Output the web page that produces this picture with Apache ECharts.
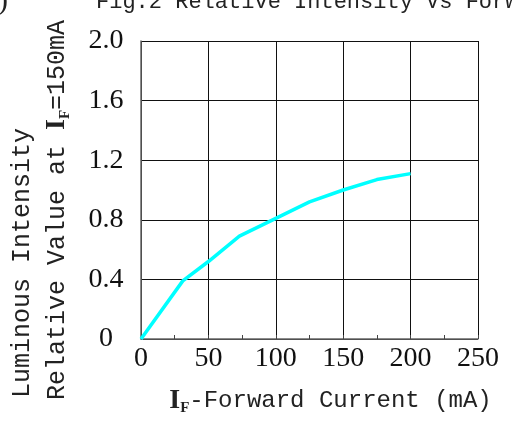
<!DOCTYPE html>
<html>
<head>
<meta charset="utf-8">
<script src="https://cdn.jsdelivr.net/npm/echarts@6/dist/echarts.min.js"></script>
<style>html,body{margin:0;padding:0;background:#fff;}#c{width:512px;height:421px;}</style>
</head>
<body>
<div id="c"></div>
<script>
const titleText = 'Fig.2 Relative Intensity Vs Forward Current';
const currentMA = [0, 31, 50, 73, 100, 125, 150, 175, 200];
const relIntensity = [0, 0.39, 0.52, 0.69, 0.81, 0.92, 1.0, 1.07, 1.11];
const xTicks = [0, 50, 100, 150, 200, 250];
const yTicks = [0, 0.4, 0.8, 1.2, 1.6, 2.0];

const chart = echarts.init(document.getElementById('c'), null, {renderer: 'canvas'});
const mono = 'Liberation Mono';
const serif = 'Liberation Serif';
const option = {
  backgroundColor: '#fff',
  animation: false,
  title: [{
    text: titleText, left: 96, top: -9, padding: 0,
    textStyle: {fontFamily: mono, fontSize: 22, fontWeight: 'normal', color: '#222'}
  }, {
    text: ')', left: -2, top: -14, padding: 0,
    textStyle: {fontFamily: serif, fontSize: 30, fontWeight: 'normal', color: '#222'}
  }],
  grid: {left: 141, right: 34, top: 41, bottom: 80, containLabel: false},
  xAxis: {
    type: 'value', min: xTicks[0], max: xTicks[xTicks.length - 1], interval: 50,
    name: '{b|I}{s|F}-Forward Current (mA)',
    nameLocation: 'middle', nameGap: 46,
    nameTextStyle: {
      fontFamily: mono, fontSize: 24, color: '#222', padding: [0, 0, 0, 42],
      rich: {
        b: {fontFamily: serif, fontSize: 28, fontWeight: 'bold', color: '#222'},
        s: {fontFamily: serif, fontSize: 15, fontWeight: 'bold', color: '#222', padding: [16, 0, 0, 0]}
      }
    },
    axisLine: {show: true, lineStyle: {color: '#666', width: 1.5}},
    axisTick: {show: true, inside: true, length: 4, lineStyle: {color: '#444'}},
    minorTick: {show: true, splitNumber: 2, length: 4, lineStyle: {color: '#444'}},
    splitLine: {show: true, lineStyle: {color: '#111', width: 1}},
    axisLabel: {fontFamily: serif, fontSize: 28, color: '#111', margin: 6,
      formatter: v => xTicks.includes(v) ? String(v) : ''}
  },
  yAxis: {
    type: 'value', min: yTicks[0], max: yTicks[yTicks.length - 1], interval: 0.4,
    axisLine: {show: true, lineStyle: {color: '#666', width: 1.5}},
    axisTick: {show: false},
    splitLine: {show: true, lineStyle: {color: '#111', width: 1}},
    axisLabel: {fontFamily: serif, fontSize: 28, color: '#111', margin: 35, align: 'center',
      formatter: v => { const t = yTicks.find(y => Math.abs(y - v) < 1e-9); return t === undefined ? '' : (t === 0 ? '0' : t.toFixed(1)); }}
  },
  graphic: [{
    type: 'text', x: 22, y: 398, rotation: Math.PI / 2,
    style: {text: 'Luminous Intensity', font: '25px "Liberation Mono"', fill: '#222', align: 'left', verticalAlign: 'middle'}
  }, {
    type: 'text', x: 57, y: 400, rotation: Math.PI / 2,
    style: {
      text: 'Relative Value at {b|I}{s|F}=150mA', font: '25px "Liberation Mono"', fill: '#222',
      align: 'left', verticalAlign: 'middle',
      rich: {
        b: {fontFamily: serif, fontSize: 28, fontWeight: 'bold', fill: '#222'},
        s: {fontFamily: serif, fontSize: 15, fontWeight: 'bold', fill: '#222', padding: [16, 0, 0, 0]}
      }
    }
  }],
  series: [{
    type: 'line',
    data: currentMA.map((x, i) => [x, relIntensity[i]]),
    showSymbol: false, smooth: false,
    lineStyle: {color: '#00FFFF', width: 3.5},
    itemStyle: {color: '#00FFFF'}
  }]
};
chart.setOption(option);
</script>
</body>
</html>
